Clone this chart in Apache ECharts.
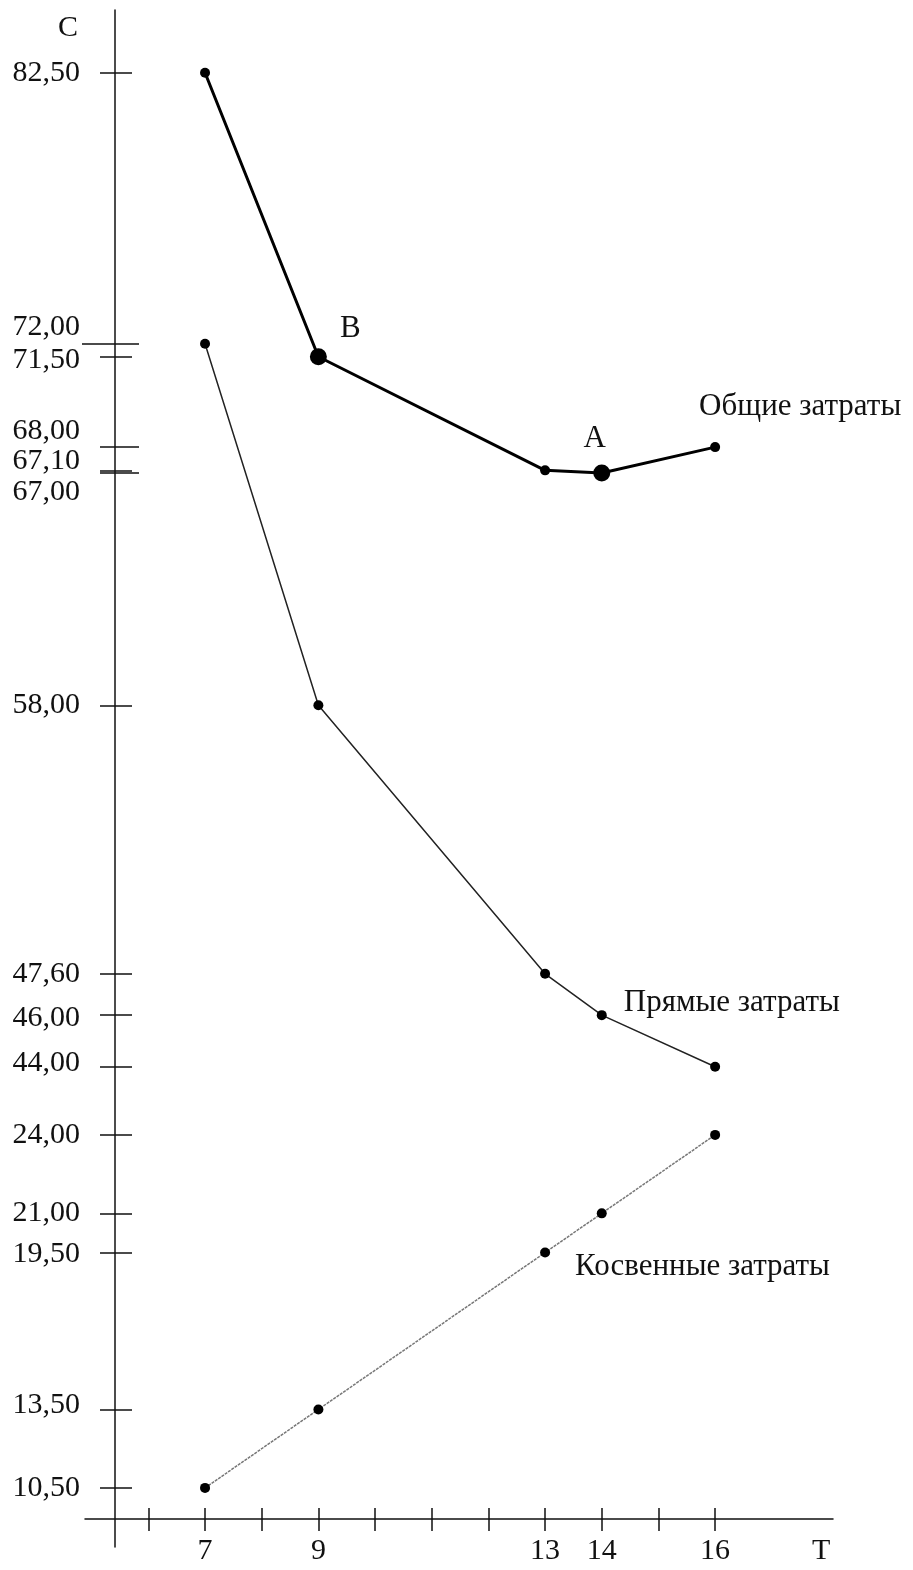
<!DOCTYPE html>
<html><head><meta charset="utf-8">
<script src="https://cdn.jsdelivr.net/npm/echarts@6/dist/echarts.min.js"></script>
<style>html,body{margin:0;padding:0;background:#fff}#c{width:913px;height:1570px}</style>
</head><body><div id="c"></div>
<script>
// ---- data ----
const periods = [7, 9, 13, 14, 16];
const totalCost = [82.5, 71.5, 67.1, 67.0, 68.0];
const directCost = [72.0, 58.0, 47.6, 46.0, 44.0];
const indirectCost = [10.5, 13.5, 19.5, 21.0, 24.0];
const upperTickValues = [82.5, 72, 71.5, 68, 67.1, 67, 58, 47.6, 46, 44];
const lowerTickValues = [24, 21, 19.5, 13.5, 10.5];
const xTickValues = [6, 7, 8, 9, 10, 11, 12, 13, 14, 15, 16];
const xLabelValues = [7, 9, 13, 14, 16];
const seriesNames = ['Общие затраты', 'Прямые затраты', 'Косвенные затраты'];
const pointNames = { optimum: 'A', start: 'B' };
const axisNames = { y: 'C', x: 'T' };

// ---- styling / layout ----
const FONT = '"Liberation Serif", "Times New Roman", serif';
const FS = 30;      // axis labels
const FS_NAME = 31; // series names
const upperRange = { min: 25.40, max: 84.93 };
const lowerRange = { min: 8.24, max: 67.02 };
const labelNudge = { '72.00': -17, '71.50': 3, '68.00': -16, '67.10': -9, '67.00': 19,
  '46.00': 3, '44.00': -4, '19.50': 2, '13.50': -4 };

function fmt(v) { return Number(v).toFixed(2).replace('.', ','); }
function nudgedLabel(v) {
  const k = Number(v).toFixed(2);
  const n = labelNudge[k] || 0;
  if (n < 0) return '{u' + (-n) + '|' + fmt(v) + '}';
  if (n > 0) return '{d' + n + '|' + fmt(v) + '}';
  return '{n|' + fmt(v) + '}';
}
const rich = { n: { fontFamily: FONT, fontSize: FS, color: '#111' } };
Object.keys(labelNudge).forEach(k => {
  const n = labelNudge[k];
  const key = (n < 0 ? 'u' : 'd') + Math.abs(n);
  rich[key] = { fontFamily: FONT, fontSize: FS, color: '#111',
    padding: n < 0 ? [0, 0, 2 * Math.abs(n), 0] : [2 * n, 0, 0, 0] };
});

function yAxisBase(range, extra) {
  return Object.assign({
    type: 'value', min: range.min, max: range.max, position: 'left', offset: -30,
    splitLine: { show: false }, axisLine: { show: false },
    axisTick: { show: false }, axisLabel: { show: false }
  }, extra);
}
const tickLine = { color: '#111', width: 1.5 };

const yAxes = [
  yAxisBase(upperRange, {
    axisLine: { show: true, lineStyle: { color: '#111', width: 1.5 } },
    axisTick: { show: true, length: 15, customValues: upperTickValues, lineStyle: tickLine },
    axisLabel: { show: true, customValues: upperTickValues, margin: 35, formatter: nudgedLabel, rich: rich }
  }),
  yAxisBase(lowerRange, {
    axisTick: { show: true, length: 15, customValues: lowerTickValues, lineStyle: tickLine },
    axisLabel: { show: true, customValues: lowerTickValues, margin: 35, formatter: nudgedLabel, rich: rich }
  }),
  yAxisBase(upperRange, {
    axisTick: { show: true, inside: true, length: 17, customValues: [82.5, 71.5, 67.1, 58, 47.6, 46, 44], lineStyle: tickLine }
  }),
  yAxisBase(upperRange, {
    axisTick: { show: true, inside: true, length: 24, customValues: [72, 68, 67], lineStyle: tickLine }
  }),
  yAxisBase(upperRange, {
    axisTick: { show: true, length: 33, customValues: [72], lineStyle: tickLine }
  }),
  yAxisBase(lowerRange, {
    axisTick: { show: true, inside: true, length: 17, customValues: lowerTickValues, lineStyle: tickLine }
  })
];

const xBase = { type: 'value', min: 4.882, max: 18.08, position: 'bottom', offset: -28, splitLine: { show: false } };
const xAxes = [
  Object.assign({}, xBase, {
    axisLine: { show: true, lineStyle: { color: '#111', width: 1.5 } },
    axisTick: { show: true, length: 12, customValues: xTickValues, lineStyle: tickLine },
    axisLabel: { show: true, customValues: xLabelValues, margin: 17, fontFamily: FONT, fontSize: FS, color: '#111' }
  }),
  Object.assign({}, xBase, {
    axisLine: { show: false },
    axisTick: { show: true, inside: true, length: 11, customValues: xTickValues, lineStyle: tickLine },
    axisLabel: { show: false }
  })
];

const textStyle = { fontFamily: FONT, fontSize: FS_NAME, color: '#111' };

function buildData(values, extras) {
  return values.map((v, i) => Object.assign({ value: [periods[i], v] }, extras[i] || {}));
}

const totalData = buildData(totalCost, {
  1: { symbolSize: 17, label: Object.assign({ show: true, formatter: pointNames.start, position: 'right', offset: [8, -28] }, textStyle) },
  3: { symbolSize: 17, label: Object.assign({ show: true, formatter: pointNames.optimum, position: 'top', offset: [-7, -5] }, textStyle) },
  4: { label: Object.assign({ show: true, formatter: seriesNames[0], position: 'right', offset: [-26, -40] }, textStyle) }
});
const directData = buildData(directCost, {
  3: { label: Object.assign({ show: true, formatter: seriesNames[1], position: 'right', offset: [12, -12] }, textStyle) }
});
const indirectData = buildData(indirectCost, {
  2: { label: Object.assign({ show: true, formatter: seriesNames[2], position: 'right', offset: [20, 14] }, textStyle) }
});

const option = {
  animation: false,
  backgroundColor: '#fff',
  grid: { left: 85, right: 80, top: 10, bottom: 23, containLabel: false },
  xAxis: xAxes,
  yAxis: yAxes,
  graphic: [
    { type: 'text', left: 58, top: 13, style: { text: axisNames.y, fontFamily: FONT, fontSize: FS, fill: '#111' } },
    { type: 'text', left: 812, top: 1536, style: { text: axisNames.x, fontFamily: FONT, fontSize: FS, fill: '#111' } }
  ],
  series: [
    { name: seriesNames[0], type: 'line', xAxisIndex: 0, yAxisIndex: 0, data: totalData,
      symbol: 'circle', symbolSize: 10, itemStyle: { color: '#000' },
      lineStyle: { color: '#000', width: 3 }, z: 5 },
    { name: seriesNames[1], type: 'line', xAxisIndex: 0, yAxisIndex: 0, data: directData,
      symbol: 'circle', symbolSize: 10, itemStyle: { color: '#000' },
      lineStyle: { color: '#222', width: 1.5 }, z: 4 },
    { name: seriesNames[2], type: 'line', xAxisIndex: 0, yAxisIndex: 1, data: indirectData,
      symbol: 'circle', symbolSize: 10, itemStyle: { color: '#000' },
      lineStyle: { color: '#777', width: 1.5, type: [3, 1] }, z: 4 }
  ]
};

const chart = echarts.init(document.getElementById('c'), null, { renderer: 'canvas' });
chart.setOption(option);
</script>
</body></html>
